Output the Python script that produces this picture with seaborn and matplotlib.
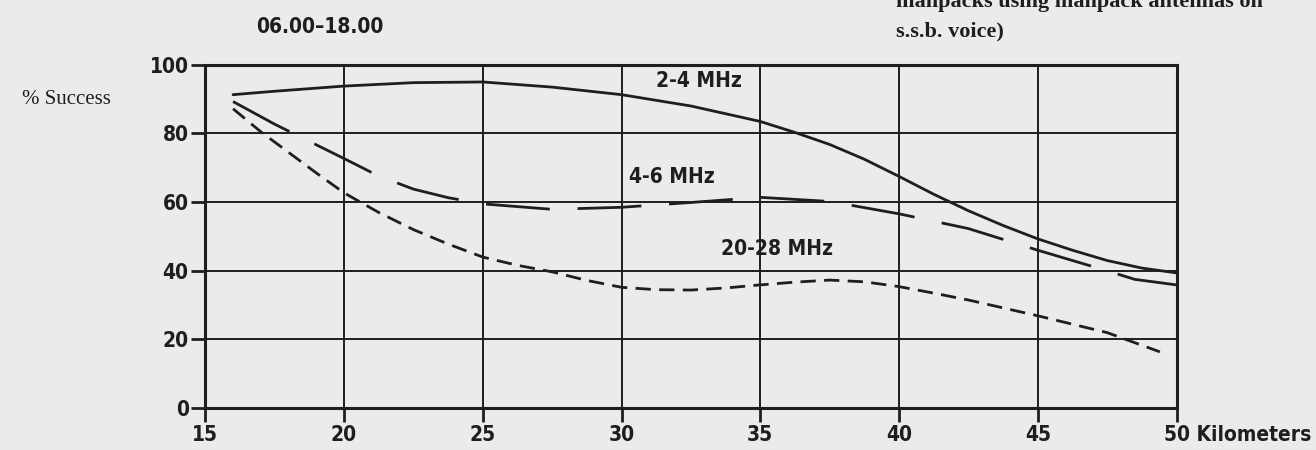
import pandas as pd
import matplotlib
matplotlib.use("Agg")
import matplotlib.pyplot as plt
import matplotlib.transforms as mtrans
import seaborn as sns

# Valores
km_24 = [16, 17.5, 20, 22.5, 25, 27.5, 30, 32.5, 35, 36.25, 37.5, 38.75, 40, 41.25,
         42.5, 43.75, 45, 46.25, 47.5, 48.75, 50]
pct_24 = [91.3, 92.3, 93.8, 94.8, 95.0, 93.5, 91.3, 88.0, 83.5, 80.3, 76.8, 72.5, 67.5, 62.3,
          57.5, 53.2, 49.3, 46.0, 43.0, 40.8, 39.4]

km_46 = [16, 17.5, 20, 21.25, 22.5, 23.75, 25, 27.5, 30, 32.5, 35, 37.5, 40, 42.5,
         45, 47.5, 48.5, 50]
pct_46 = [89.3, 82.7, 72.7, 67.6, 63.8, 61.3, 59.5, 57.9, 58.5, 59.9, 61.4, 60.2, 56.6, 52.3,
          46.0, 40.0, 37.5, 35.9]

km_2028 = [16, 17, 18, 19, 20, 21.25, 22.5, 23.75, 25, 26.25, 27.5, 28.75, 30, 31.25, 32.5,
           33.75, 35, 36.25, 37.5, 38.75, 40, 41.25, 42.5, 45, 47.5, 49.4]
pct_2028 = [87.2, 80.5, 74.5, 68.5, 62.7, 57.0, 52.0, 47.8, 44.0, 41.6, 39.7, 37.2, 35.2, 34.5, 34.4,
            35.0, 35.9, 36.7, 37.3, 36.8, 35.4, 33.5, 31.5, 26.9, 22.0, 16.4]

x_ticks = [15, 20, 25, 30, 35, 40, 45, 50]
x_labels = ["15", "20", "25", "30", "35", "40", "45", "50 Kilometers"]
y_ticks = [0, 20, 40, 60, 80, 100]

series = ["2-4 MHz", "4-6 MHz", "20-28 MHz"]

bg = "#ebebeb"
ink = "#1e1e1e"

sns.set_style("white")
plt.rcParams["font.family"] = ["DejaVu Sans"]
plt.rcParams["font.stretch"] = "condensed"
plt.rcParams["lines.scale_dashes"] = False

fig = plt.figure(figsize=(13.16, 4.5), dpi=100, facecolor=bg)
ax = fig.add_axes([0.156, 0.093, 0.738, 0.763], facecolor=bg)

df = pd.concat([
    pd.DataFrame({"km": km_24, "pct": pct_24, "banda": series[0]}),
    pd.DataFrame({"km": km_46, "pct": pct_46, "banda": series[1]}),
    pd.DataFrame({"km": km_2028, "pct": pct_2028, "banda": series[2]}),
])

estilos = {series[0]: "-", series[1]: (0, (46, 20)), series[2]: (0, (11, 6))}
for banda, sub in df.groupby("banda", sort=False):
    sns.lineplot(data=sub, x="km", y="pct", ax=ax, color=ink, linewidth=2.0,
                 linestyle=estilos[banda], estimator=None, sort=False,
                 solid_joinstyle="round")

# rejilla
for xv in x_ticks[1:-1]:
    ax.axvline(xv, color=ink, linewidth=1.4, zorder=1)
for yv in y_ticks[1:-1]:
    ax.axhline(yv, color=ink, linewidth=1.4, zorder=1)

ax.set_xlim(15, 50)
ax.set_ylim(0, 100)
ax.set_xticks(x_ticks)
ax.set_yticks(y_ticks)
ax.set_xticklabels(x_labels)
ax.tick_params(axis="both", direction="out", length=10, width=2, color=ink,
               labelsize=15, labelcolor=ink, pad=2, bottom=True, left=True)
for lab in ax.get_xticklabels() + ax.get_yticklabels():
    lab.set_fontweight("bold")
xl = ax.get_xticklabels()
xl[-1].set_horizontalalignment("left")
xl[-1].set_transform(xl[-1].get_transform() + mtrans.ScaledTranslation(-9 / 72, 0, fig.dpi_scale_trans))
ax.set_xlabel("")
ax.set_ylabel("")
for s in ax.spines.values():
    s.set_visible(True)
    s.set_color(ink)
    s.set_linewidth(2.2)

ax.text(32.8, 95.3, "2-4 MHz", ha="center", va="center", fontsize=15, fontweight="bold", color=ink)
ax.text(31.8, 67.2, "4-6 MHz", ha="center", va="center", fontsize=15, fontweight="bold", color=ink)
ax.text(35.6, 46.4, "20-28 MHz", ha="center", va="center", fontsize=15, fontweight="bold", color=ink)

fig.text(320 / 1316, 1 - 27 / 450, "06.00\u201318.00", ha="center", va="center",
         fontsize=15, fontweight="bold", color=ink)
fig.text(22 / 1316, 1 - 100 / 450, "% Success", ha="left", va="center",
         fontsize=15, color=ink, family="Liberation Serif", stretch="normal")
fig.text(896 / 1316, 1 - 2 / 450, "manpacks using manpack antennas on", ha="left", va="center",
         fontsize=16, fontweight="bold", color=ink, family="Liberation Serif", stretch="normal")
fig.text(896 / 1316, 1 - 31 / 450, "s.s.b. voice)", ha="left", va="center",
         fontsize=16, fontweight="bold", color=ink, family="Liberation Serif", stretch="normal")

fig.savefig("out.png", dpi=100, facecolor=bg)
